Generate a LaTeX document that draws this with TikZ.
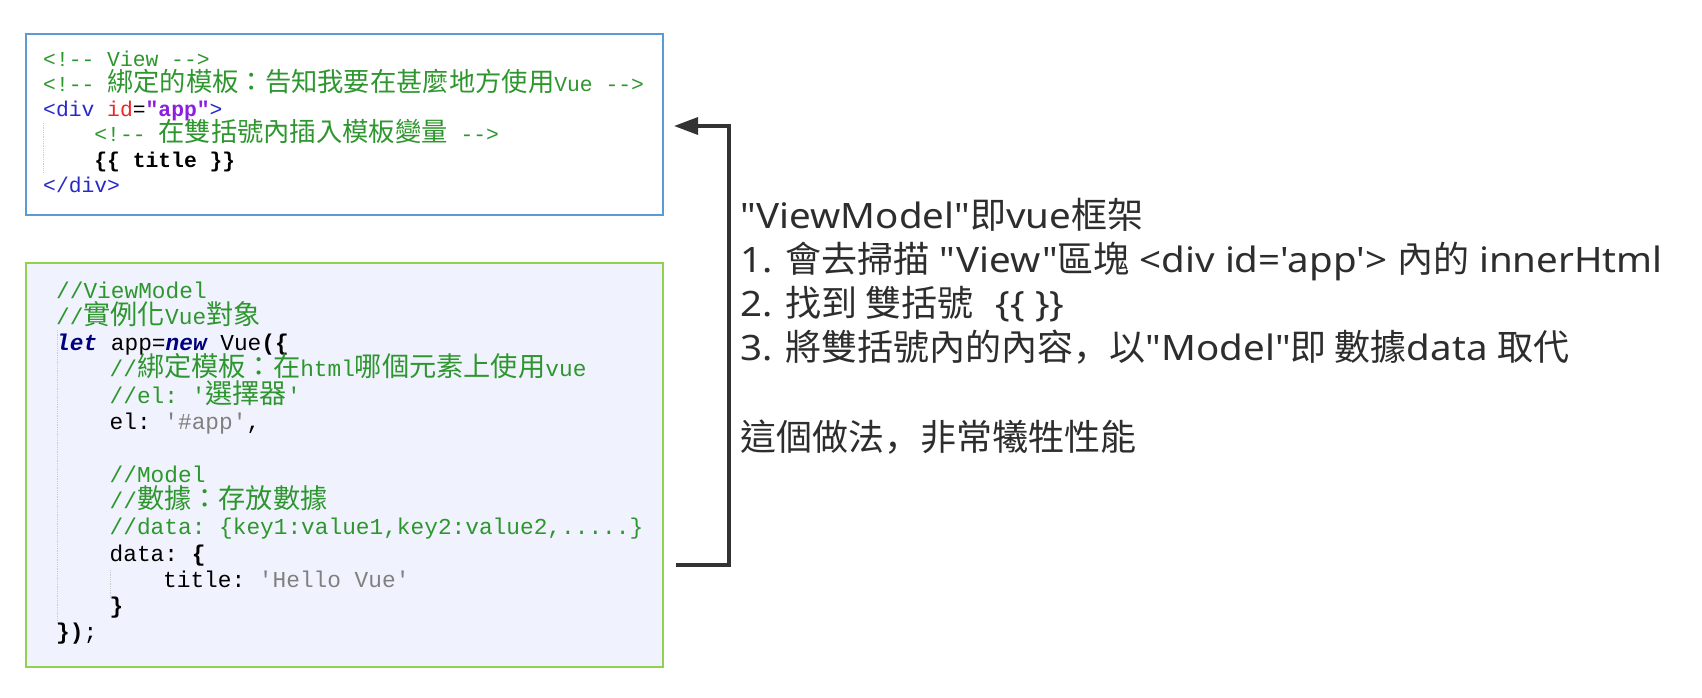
\documentclass[tikz,border=0pt]{standalone}
\usepackage{fontspec}
\usetikzlibrary{arrows.meta,calc}
\setmonofont{Liberation Mono}
\newfontfamily\zhfont{Noto Sans CJK TC}
\newfontfamily\zhsc{Noto Sans CJK SC}
\newfontfamily\descfont{Noto Sans}[Ligatures=TeXOff,FakeStretch=1.1]
\definecolor{cmt}{RGB}{46,150,46}
\definecolor{tag}{RGB}{40,40,205}
\definecolor{attr}{RGB}{235,40,40}
\definecolor{strv}{RGB}{140,30,225}
\definecolor{kw}{RGB}{0,0,128}
\definecolor{gstr}{RGB}{128,128,128}
\definecolor{bborder}{RGB}{91,155,213}
\definecolor{gborder}{RGB}{146,208,80}
\definecolor{gfill}{RGB}{240,243,253}
\definecolor{arr}{RGB}{51,51,51}
\definecolor{desc}{RGB}{45,45,45}
\definecolor{guide}{RGB}{205,205,205}
\def\zhsz{26}
\newcommand\zh[1]{{\zhfont\fontsize{\zhsz}{20}\selectfont #1}}
\newcommand\zd[1]{{\zhfont\fontsize{36}{44}\selectfont #1}}
\newcommand\zcomma{{\zhsc\fontsize{36}{44}\selectfont ，}}
\newcommand\cm[1]{\textcolor{cmt}{#1}}
\newcommand\kwd[1]{\textcolor{kw}{\bfseries\itshape #1}}
\tikzset{
  viewcode/.style={anchor=base west, inner sep=0pt, font=\def\zhsz{26.3}\ttfamily\fontsize{21.34}{25}\selectfont},
  vmcode/.style={anchor=base west, inner sep=0pt, font=\def\zhsz{27.2}\ttfamily\fontsize{22.8}{26}\selectfont},
  descline/.style={anchor=base west, inner sep=0pt, text=desc, font=\descfont\fontsize{35}{44}\selectfont},
  bluebox/.style={draw=bborder, line width=2pt, fill=white, anchor=north west, minimum width=637pt, minimum height=181pt, inner sep=0pt},
  greenbox/.style={draw=gborder, line width=2pt, fill=gfill, anchor=north west, minimum width=637pt, minimum height=404pt, inner sep=0pt},
  guideline/.style={draw=guide, line width=0.8pt, densely dotted},
  flow/.style={draw=arr, line width=3.3pt, -{Triangle[length=24pt,width=17pt]}}
}
\begin{document}
\begin{tikzpicture}[x=1pt,y=-1pt]
\useasboundingbox (0,0) rectangle (1702,697);
% boxes
\node[bluebox] (blue) at (25,33) {};
\node[greenbox] (green) at (25,262) {};
% guides
\coordinate (bg1) at (43,123);
\coordinate (bg2) at (43,173);
\draw[guideline] (bg1) -- (bg2);
\coordinate (gg1) at (57,330);
\coordinate (gg2) at (57,624);
\draw[guideline] (gg1) -- (gg2);
\coordinate (gg3) at (110,570);
\coordinate (gg4) at (110,598);
\draw[guideline] (gg3) -- (gg4);
% view code
\node[viewcode] (b1) at (43,66) {\cm{<!-- View -->}};
\node[viewcode] (b2) at (43,91.3) {\cm{<!-- \zh{綁定的模板：告知我要在甚麼地方使用}Vue -->}};
\node[viewcode] (b3) at (43,116.6) {\textcolor{tag}{<div} \textcolor{attr}{id}=\textcolor{strv}{\bfseries"app"}\textcolor{tag}{>}};
\node[viewcode] (b4) at (94.2,141.9) {\cm{<!-- \zh{在雙括號內插入模板變量} -->}};
\node[viewcode] (b5) at (94.2,167.2) {\bfseries\{\{ title \}\}};
\node[viewcode] (b6) at (43,192.5) {\textcolor{tag}{</div>}};
% viewmodel code
\node[vmcode] (g1) at (56,298) {\cm{//ViewModel}};
\node[vmcode] (g2) at (56,324.3) {\cm{//\zh{實例化}Vue\zh{對象}}};
\node[vmcode] (g3) at (56,350.6) {\kwd{let} app=\kwd{new} Vue\textbf{(\{}};
\node[vmcode] (g4) at (109.5,376.9) {\cm{//\zh{綁定模板：在}html\zh{哪個元素上使用}vue}};
\node[vmcode] (g5) at (109.5,403.2) {\cm{//el: '\zh{選擇器}'}};
\node[vmcode] (g6) at (109.5,429.5) {el: \textcolor{gstr}{'\#app'},};
\node[vmcode] (g8) at (109.5,482.1) {\cm{//Model}};
\node[vmcode] (g9) at (109.5,508.4) {\cm{//\zh{數據：存放數據}}};
\node[vmcode] (g10) at (109.5,534.7) {\cm{//data: \{key1:value1,key2:value2,.....\}}};
\node[vmcode] (g11) at (109.5,561) {data: \textbf{\{}};
\node[vmcode] (g12) at (163,587.3) {title: \textcolor{gstr}{'Hello Vue'}};
\node[vmcode] (g13) at (109.5,613.6) {\textbf{\}}};
\node[vmcode] (g14) at (56,639.9) {\textbf{\})};};
% description
\node[descline] (d1) at (740,228) {"ViewModel"\zd{即}vue\zd{框架}};
\node[descline] (d2) at (740,272.3) {1. \zd{會去掃描} "View"\zd{區塊} <div id='app'> \zd{內的} innerHtml};
\node[descline] (d3) at (740,316.6) {2. \zd{找到 雙括號}\hspace{12pt} \{\{ \}\}};
\node[descline] (d4) at (740,360.9) {3. \zd{將雙括號內的內容}\zcomma\zd{以}"Model"\zd{即 數據}data \zd{取代}};
\node[descline] (d5) at (740,450) {\zd{這個做法}\zcomma\zd{非常犧牲性能}};
% connector
\coordinate (start) at ($(green.north east)+(12,303)$);
\coordinate (target) at ($(blue.east)+(10,1.5)$);
\draw[flow] (start) -- ++(53,0) |- (target);
\end{tikzpicture}
\end{document}
